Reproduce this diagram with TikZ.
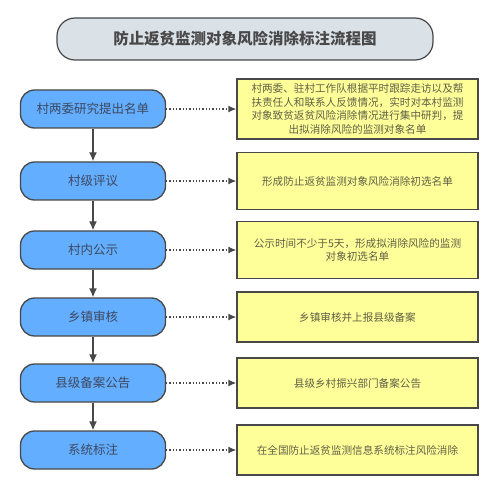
\documentclass[tikz,border=0pt]{standalone}
\usepackage{fontspec}
\newfontfamily\cjk{Noto Sans CJK SC}
\usepackage{tikz}
\usetikzlibrary{arrows.meta}
\definecolor{procblue}{RGB}{99,174,255}
\definecolor{noteyellow}{RGB}{255,255,153}
\definecolor{titlegray}{RGB}{218,226,231}
\definecolor{edgegray}{RGB}{72,72,72}
\definecolor{procink}{RGB}{62,72,96}
\definecolor{noteink}{RGB}{96,96,70}
\tikzset{procbox/.style={draw=edgegray, line width=1.3pt, fill=procblue, rounded corners=14pt, minimum width=145pt, minimum height=38pt, inner sep=0pt, text=procink, font=\cjk\fontsize{12.5}{14}\selectfont}}
\tikzset{notebox/.style={draw=edgegray, line width=1.3pt, fill=noteyellow, minimum width=241pt, inner sep=0pt, align=center, text=noteink, font=\cjk\fontsize{10.6}{13.5}\selectfont}}
\tikzset{titlebox/.style={draw=edgegray, line width=1.2pt, fill=titlegray, rounded corners=18pt, minimum width=376pt, minimum height=42pt, inner sep=0pt, text=edgegray, font=\cjk\bfseries\fontsize{15.5}{18}\selectfont}}
\tikzset{down/.style={draw=edgegray, line width=1.3pt, -{Latex[length=9pt, width=8pt]}}}
\tikzset{aside/.style={draw=edgegray, line width=1.3pt, dotted, -{Latex[length=8pt, width=7pt]}}}

\begin{document}
\begin{tikzpicture}[x=1pt, y=-1pt]
\useasboundingbox (0,0) rectangle (499,495);
\node[titlebox] (title) at (245,39) {防止返贫监测对象风险消除标注流程图};
% left column: steps
\node[procbox] (s1) at (93,109) {村两委研究提出名单};
\node[procbox] (s2) at (93,181) {村级评议};
\node[procbox] (s3) at (93,250) {村内公示};
\node[procbox] (s4) at (93,317) {乡镇审核};
\node[procbox] (s5) at (93,383) {县级备案公告};
\node[procbox] (s6) at (93,450) {系统标注};
% right column: notes
\node[notebox, minimum height=60pt] (n1) at (357.5,109) {村两委、驻村工作队根据平时跟踪走访以及帮\\扶责任人和联系人反馈情况，实时对本村监测\\对象致贫返贫风险消除情况进行集中研判，提\\出拟消除风险的监测对象名单};
\node[notebox, minimum height=57pt] (n2) at (357.5,181) {形成防止返贫监测对象风险消除初选名单};
\node[notebox, minimum height=57pt] (n3) at (357.5,250) {公示时间不少于5天，形成拟消除风险的监测\\对象初选名单};
\node[notebox, minimum height=50pt] (n4) at (357.5,317) {乡镇审核并上报县级备案};
\node[notebox, minimum height=50pt] (n5) at (357.5,383) {县级乡村振兴部门备案公告};
\node[notebox, minimum height=50pt] (n6) at (357.5,450) {在全国防止返贫监测信息系统标注风险消除};
% connectors
\draw[down] (s1) -- (s2); \draw[down] (s2) -- (s3); \draw[down] (s3) -- (s4);
\draw[down] (s4) -- (s5); \draw[down] (s5) -- (s6);
\draw[aside] (s1) -- (n1); \draw[aside] (s2) -- (n2); \draw[aside] (s3) -- (n3);
\draw[aside] (s4) -- (n4); \draw[aside] (s5) -- (n5); \draw[aside] (s6) -- (n6);
\end{tikzpicture}
\end{document}
